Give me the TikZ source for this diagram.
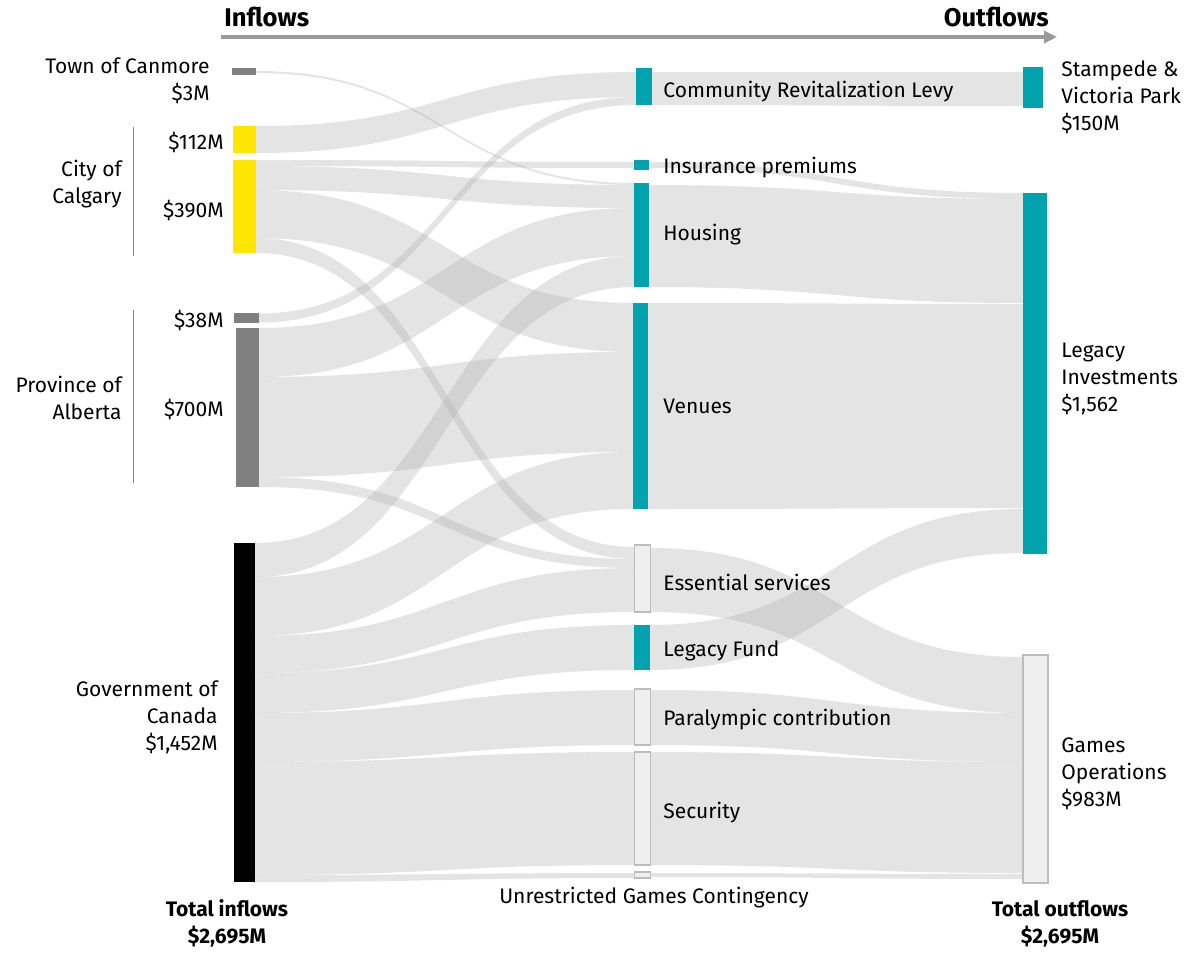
\documentclass[tikz,border=0pt]{standalone}
\usepackage{fontspec}
\setmainfont{Fira Sans}
\usetikzlibrary{arrows.meta, positioning, backgrounds}

\definecolor{eyteal}{HTML}{00A3AE}
\definecolor{eyyellow}{HTML}{FFE600}
\definecolor{srcgray}{HTML}{808080}
\definecolor{flowgray}{HTML}{B3B3B3}
\definecolor{palebar}{HTML}{EFEFEF}
\definecolor{barline}{HTML}{BDBDBD}
\definecolor{axisgray}{HTML}{9A9A9A}

% ribbon from node #1 (rows #2..#3) to node #4 (rows #5..#6)
\newcommand{\sflow}[6]{%
  \fill[ribbon] (#1.east |- 0,#2) .. controls +(190,0) and +(-190,0) .. (#4.west |- 0,#5)
    -- (#4.west |- 0,#6) .. controls +(-190,0) and +(190,0) .. (#1.east |- 0,#3) -- cycle;}

\begin{document}
\begin{tikzpicture}[x=0.5pt, y=-0.5pt,
    bar/.style={rectangle, inner sep=0pt, outer sep=0pt},
    pale/.style={bar, fill=palebar, draw=barline, line width=0.6pt},
    ribbon/.style={fill=flowgray, fill opacity=0.36},
    lbl/.style={font=\fontsize{10.5}{13.5}\selectfont, inner sep=0pt},
    head/.style={font=\fontsize{12.8}{15}\selectfont\bfseries, inner sep=0pt},
    total/.style={font=\fontsize{10.5}{13.5}\selectfont\bfseries, inner sep=0pt, align=center},
    brk/.style={draw=srcgray, line width=0.5pt}]
\useasboundingbox (0,0) rectangle (1199,953);

% header
\node[head, anchor=base west] (inf) at (224,26) {Inflows};
\node[head, anchor=base east] (outf) at (1049,26) {Outflows};
\coordinate (ax0) at (221,37);
\coordinate (ax1) at (1057,37);
\draw[axisgray, line width=2pt, -{Triangle[length=6.5pt, width=6pt]}] (ax0) -- (ax1);

% inflow bars
\node[bar, fill=srcgray, minimum width=12pt, minimum height=3.5pt] (can) at (244,71.5) {};
\node[bar, fill=eyyellow, minimum width=11.5pt, minimum height=13.5pt] (cal1) at (244.5,139.5) {};
\node[bar, fill=eyyellow, minimum width=11.5pt, minimum height=46.5pt] (cal2) at (244.5,206.5) {};
\node[bar, fill=srcgray, minimum width=12.5pt, minimum height=5pt] (alb1) at (246.5,318) {};
\node[bar, fill=srcgray, minimum width=11.5pt, minimum height=79.5pt] (alb2) at (247.5,407.5) {};
\node[bar, fill=black, minimum width=10.5pt, minimum height=169.5pt] (gov) at (244.5,712.5) {};

% uses
\node[bar, fill=eyteal, minimum width=8pt, minimum height=18.5pt] (crl) at (644,86.5) {};
\node[bar, fill=eyteal, minimum width=7.5pt, minimum height=5pt] (ins) at (641.5,165) {};
\node[bar, fill=eyteal, minimum width=7.5pt, minimum height=52pt] (hou) at (641.5,235) {};
\node[bar, fill=eyteal, minimum width=7.5pt, minimum height=103pt] (ven) at (640.5,406) {};
\node[pale, minimum width=8pt, minimum height=33.5pt] (ess) at (642.5,578.5) {};
\node[bar, fill=eyteal, minimum width=8pt, minimum height=22.5pt] (lf) at (642,647.5) {};
\node[pale, minimum width=8pt, minimum height=28pt] (par) at (642.5,717) {};
\node[pale, minimum width=8pt, minimum height=56.5pt] (sec) at (642.5,808.5) {};
\node[pale, minimum width=8pt, minimum height=3pt] (unr) at (642.5,875) {};

% outflow bars
\node[bar, fill=eyteal, minimum width=10pt, minimum height=20.5pt] (stp) at (1033,87.5) {};
\node[bar, fill=eyteal, minimum width=12pt, minimum height=180.5pt] (li) at (1035,373.5) {};
\node[pale, minimum width=12.5pt, minimum height=114pt] (go) at (1035.5,769) {};

\begin{pgfonlayer}{background}
  % inflows -> uses
  \sflow{can}{71}{73}{hou}{183}{185}
  \sflow{cal1}{126}{153}{crl}{72}{97}
  \sflow{cal2}{160}{166}{ins}{162}{168}
  \sflow{cal2}{166}{190}{hou}{185}{208}
  \sflow{cal2}{190}{238}{ven}{303}{352}
  \sflow{cal2}{238}{253}{ess}{547}{559}
  \sflow{alb1}{313.5}{322.5}{crl}{97}{105}
  \sflow{alb2}{328}{377}{hou}{208}{256}
  \sflow{alb2}{377}{477}{ven}{352}{452}
  \sflow{alb2}{477}{487}{ess}{559}{568}
  \sflow{gov}{543}{577}{hou}{256}{287}
  \sflow{gov}{577}{636}{ven}{452}{509}
  \sflow{gov}{636}{673}{ess}{568}{612}
  \sflow{gov}{673}{713}{lf}{625}{670}
  \sflow{gov}{713}{762}{par}{690}{745}
  \sflow{gov}{762}{875}{sec}{752}{865}
  \sflow{gov}{875}{882}{unr}{873}{878}
  % uses -> outflows
  \sflow{crl}{72}{105}{stp}{72}{106}
  \sflow{ins}{162}{168}{li}{193}{199}
  \sflow{hou}{185}{287}{li}{199}{303}
  \sflow{ven}{303}{509}{li}{304}{508}
  \sflow{lf}{625}{670}{li}{509}{553}
  \sflow{ess}{548}{612}{go}{657}{713}
  \sflow{par}{690}{745}{go}{713}{762}
  \sflow{sec}{752}{865}{go}{762}{873}
  \sflow{unr}{873}{877}{go}{874}{879}
\end{pgfonlayer}

% left labels (multi-line nodes sit on their last baseline)
\node[lbl, anchor=base east] (tcan) at (210,73) {Town of Canmore};
\node[lbl, anchor=base east] (vcan) at (210,100) {\$3M};
\node[lbl, anchor=base east] (vcal1) at (224,149) {\$112M};
\node[lbl, anchor=base east] (vcal2) at (224,217) {\$390M};
\node[lbl, anchor=base east, align=right] (tcal) at (122,203) {City of\\Calgary};
\node[lbl, anchor=base east] (valb1) at (224,327) {\$38M};
\node[lbl, anchor=base east] (valb2) at (224,416) {\$700M};
\node[lbl, anchor=base east, align=right] (talb) at (122,419) {Province of\\Alberta};
\node[lbl, anchor=base east, align=right] (tgov) at (218,750) {Government of\\Canada\\\$1,452M};
\coordinate (cb1) at (133,127);
\coordinate (cb2) at (133,256);
\coordinate (ab1) at (133,310);
\coordinate (ab2) at (133,483);
\draw[brk] (cb1) -- (cb2);
\draw[brk] (ab1) -- (ab2);

% use labels
\node[lbl, anchor=base west] (tcrl) at (663,97) {Community Revitalization Levy};
\node[lbl, anchor=base west] (tins) at (663,173) {Insurance premiums};
\node[lbl, anchor=base west] (thou) at (663,240) {Housing};
\node[lbl, anchor=base west] (tven) at (663,413) {Venues};
\node[lbl, anchor=base west] (tess) at (663,590) {Essential services};
\node[lbl, anchor=base west] (tlf) at (663,656) {Legacy Fund};
\node[lbl, anchor=base west] (tpar) at (663,725) {Paralympic contribution};
\node[lbl, anchor=base west] (tsec) at (663,818) {Security};
\node[lbl, anchor=base] (tunr) at (654,903) {Unrestricted Games Contingency};

% right labels
\node[lbl, anchor=base west, align=left] (tstp) at (1061,130) {Stampede \&\\Victoria Park\\\$150M};
\node[lbl, anchor=base west, align=left] (tli) at (1061,411) {Legacy\\Investments\\\$1,562};
\node[lbl, anchor=base west, align=left] (tgo) at (1061,806) {Games\\Operations\\\$983M};

% totals
\node[total, anchor=base] (tin) at (227,943) {Total inflows\\\$2,695M};
\node[total, anchor=base] (tout) at (1060,943) {Total outflows\\\$2,695M};
\end{tikzpicture}
\end{document}
